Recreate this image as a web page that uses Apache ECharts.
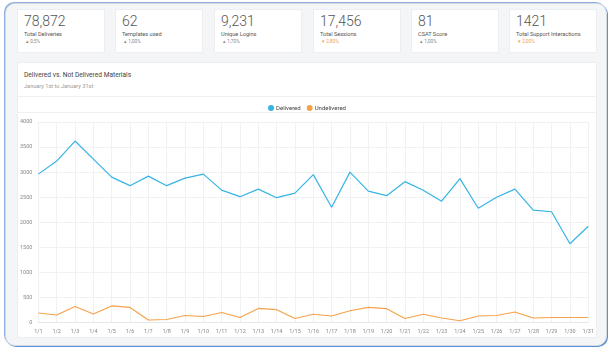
<!DOCTYPE html>
<html>
<head>
<meta charset="utf-8">
<script src="https://cdn.jsdelivr.net/npm/echarts@6/dist/echarts.min.js"></script>
<style>
  html, body { margin: 0; padding: 0; background: #fff; font-family: Roboto, sans-serif; }
  #frame {
    position: absolute; left: 5px; top: 3px; width: 600px; height: 341px;
    background: #f4f5f7; border: 1px solid #d3dae2; border-radius: 10px;
    box-shadow: 1px 1px 0 #5b8fd6, -1px -1px 0 #8fb0dc;
  }
  .card {
    position: absolute; top: 9px; width: 88px; height: 44px; background: #fff;
    border: 1px solid #eceef1; box-sizing: border-box;
  }
  .card .num { position: absolute; left: 6px; top: 3px; font-size: 14px; font-weight: 300; color: #555; }
  .card .lbl { position: absolute; left: 6px; top: 21px; font-size: 5.6px; color: #555; }
  .card .chg { position: absolute; left: 8px; top: 29px; font-size: 4.8px; color: #888; }
  .card .chg.down { color: #f0a050; }
  #panel {
    position: absolute; left: 17px; top: 62px; width: 580px; height: 276px; background: #fff;
    border: 1px solid #eceef1; box-sizing: border-box;
  }
  #title { position: absolute; left: 24px; top: 71px; font-size: 6.6px; color: #444; }
  #sub { position: absolute; left: 24px; top: 83px; font-size: 5.6px; color: #999; }
  .sep { position: absolute; left: 18px; width: 578px; height: 1px; background: #eef0f2; }
  #chart { position: absolute; left: 17px; top: 97px; width: 580px; height: 241px; }
</style>
</head>
<body>
<div id="frame"></div>
<div id="cards"></div>
<div id="panel"></div>
<div id="title">Delivered vs. Not Delivered Materials</div>
<div id="sub">January 1st to January 31st</div>
<div class="sep" style="top:96px"></div>
<div class="sep" style="top:112px"></div>
<div id="chart"></div>
<script>
'use strict';

const kpiValues = ['78,872', '62', '9,231', '17,456', '81', '1421'];
const kpiLabels = ['Total Deliveries', 'Templates used', 'Unique Logins', 'Total Sessions', 'CSAT Score', 'Total Support Interactions'];
const kpiChanges = ['0,5%', '1,00%', '1,70%', '2,80%', '1,00%', '2,00%'];
const kpiDown = [false, false, false, true, false, true];
const cardLeft = [17, 115, 214, 313, 411, 509];

const days = [];
for (let d = 1; d <= 31; d++) days.push('1/' + d);

const delivered = [2960, 3220, 3620, 3260, 2900, 2730, 2920, 2730, 2880, 2960,
  2640, 2510, 2660, 2490, 2580, 2950, 2300, 3000, 2620, 2530,
  2810, 2640, 2420, 2870, 2280, 2500, 2660, 2240, 2210, 1570, 1920];
const undelivered = [190, 150, 320, 170, 330, 300, 50, 60, 140, 120,
  200, 100, 280, 255, 80, 165, 130, 235, 300, 275,
  80, 165, 90, 35, 130, 140, 210, 90, 100, 100, 100];

(function () {
  const cards = document.querySelector('#cards');
  kpiValues.forEach(function (v, i) {
    const c = document.createElement('div');
    c.className = 'card';
    c.style.left = cardLeft[i] + 'px';
    c.innerHTML = '<div class="num">' + v + '</div>' +
      '<div class="lbl">' + kpiLabels[i] + '</div>' +
      '<div class="chg' + (kpiDown[i] ? ' down' : '') + '">' + (kpiDown[i] ? '▾ ' : '▴ ') + kpiChanges[i] + '</div>';
    cards.appendChild(c);
  });

  const chart = echarts.init(document.querySelector('#chart'));
  const option = {
    animation: false,
    textStyle: { fontFamily: 'Roboto' },
    color: ['#36b4e5', '#f7a24a'],
    legend: {
      top: 3,
      left: 'center',
      icon: 'circle',
      itemWidth: 6,
      itemHeight: 6,
      itemGap: 6,
      textStyle: { fontSize: 6, color: '#444', padding: [0, 0, 0, -3] },
      data: ['Delivered', 'Undelivered']
    },
    grid: { left: 18, right: 7, top: 25, bottom: 15.5 },
    xAxis: {
      type: 'category',
      boundaryGap: false,
      data: days,
      axisLine: { lineStyle: { color: '#e6e8eb' } },
      axisTick: { show: false },
      axisLabel: { fontSize: 5.5, color: '#888', margin: 6, interval: 0 },
      splitLine: { show: true, lineStyle: { color: '#f0f1f3' } }
    },
    yAxis: {
      type: 'value',
      min: 0,
      max: 4000,
      interval: 500,
      axisLine: { show: false },
      axisTick: { show: false },
      axisLabel: {
        fontSize: 5.5, color: '#888', margin: 6,
        formatter: function (val) { return String(val); }
      },
      splitLine: { lineStyle: { color: '#f0f1f3' } }
    },
    series: [
      {
        name: 'Delivered',
        type: 'line',
        data: delivered,
        showSymbol: false,
        lineStyle: { width: 1.2 }
      },
      {
        name: 'Undelivered',
        type: 'line',
        data: undelivered,
        showSymbol: false,
        lineStyle: { width: 1.2 }
      }
    ]
  };
  chart.setOption(option);
})();
</script>
</body>
</html>
